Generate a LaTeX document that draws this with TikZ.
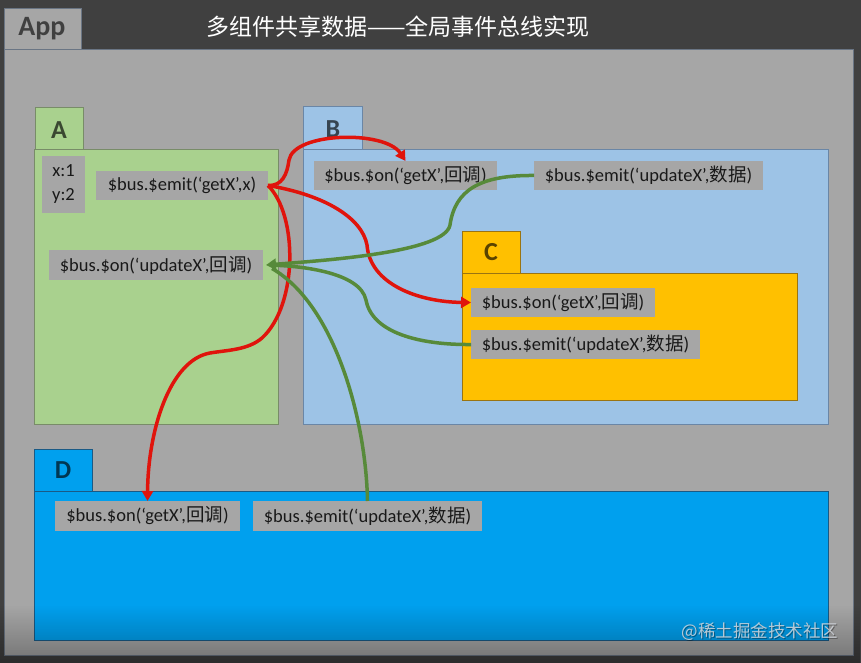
\documentclass[tikz,border=0pt]{standalone}
\usepackage{fontspec}
\setmainfont{Carlito}
\newfontfamily\cjk{Noto Sans CJK SC}
\usetikzlibrary{arrows.meta,fadings}
\definecolor{bgdark}{HTML}{404040}
\definecolor{panelgray}{HTML}{A6A6A6}
\definecolor{panelline}{HTML}{6A7584}
\definecolor{boxgray}{HTML}{A6A6A6}
\definecolor{agreen}{HTML}{A9D18E}
\definecolor{agreenline}{HTML}{788C68}
\definecolor{bblue}{HTML}{9DC3E6}
\definecolor{bblueline}{HTML}{6A86A6}
\definecolor{corange}{HTML}{FFC000}
\definecolor{corangeline}{HTML}{9A7412}
\definecolor{dblue}{HTML}{00A0EE}
\definecolor{dblueline}{HTML}{1A5A85}
\definecolor{arrowred}{HTML}{E0140C}
\definecolor{arrowgreen}{HTML}{578A3A}
\definecolor{wmark}{HTML}{D3D7DD}
\tikzfading[name=fadedown, top color=transparent!100, bottom color=transparent!0]
\tikzset{
  lbl/.style={fill=boxgray, anchor=north west, inner sep=0pt, outer sep=0pt,
    minimum height=29pt, text=black!90, font=\fontsize{18.5}{22}\selectfont},
  tabbox/.style={line width=1pt},
  tabletter/.style={font=\bfseries\fontsize{26}{28}\selectfont},
  redarrow/.style={draw=arrowred, line width=3.5pt, -{Triangle[length=10pt,width=11pt]}},
  greenarrow/.style={draw=arrowgreen, line width=3.5pt, -{Triangle[length=10pt,width=11pt]}},
  greenline/.style={draw=arrowgreen, line width=3.5pt},
}
\begin{document}
\begin{tikzpicture}[x=1pt,y=-1pt]
\useasboundingbox (0,0) rectangle (861,663);
\fill[bgdark] (0,0) rectangle (861,663);
% App panel
\filldraw[fill=panelgray, draw=panelline, line width=0.8pt] (4,49) rectangle (853,655);
\filldraw[fill=panelgray, draw=panelline, line width=0.8pt] (4,8) rectangle (81,49);
\node[font=\bfseries\fontsize{28}{30}\selectfont, text=bgdark] (apptitle) at (42,29) {App};
\node[font=\cjk\fontsize{23}{26}\selectfont, text=white] (title) at (398,27) {多组件共享数据——全局事件总线实现};
% A
\filldraw[fill=agreen, draw=agreenline, tabbox] (34,150) rectangle (278,424);
\filldraw[fill=agreen, draw=agreenline, tabbox] (35,108) rectangle (83,150);
\node[tabletter, text=black, text opacity=0.65] (atab) at (59,130) {A};
% B
\filldraw[fill=bblue, draw=bblueline, tabbox] (303,150) rectangle (828,424);
\filldraw[fill=bblue, draw=bblueline, tabbox] (303,107) rectangle (362,150);
\node[tabletter, text=black, text opacity=0.65] (btab) at (333,129) {B};
% C
\filldraw[fill=corange, draw=corangeline, tabbox] (462,273) rectangle (797,400);
\filldraw[fill=corange, draw=corangeline, tabbox] (462,231) rectangle (520,273);
\node[tabletter, text=black, text opacity=0.65] (ctab) at (491,252) {C};
% D
\filldraw[fill=dblue, draw=dblueline, tabbox] (34,491) rectangle (828,640);
\filldraw[fill=dblue, draw=dblueline, tabbox] (34,449) rectangle (92,491);
\node[tabletter, text=black, text opacity=0.65] (dtab) at (63,470) {D};
% labels
\node[lbl, minimum width=43pt, minimum height=57pt, align=center, font=\fontsize{18.5}{24}\selectfont] (axy) at (42,156) {x:1\\y:2};
\node[lbl, minimum width=172pt] (aemit) at (96,171) {\$bus.\$emit(‘getX’,x)};
\node[lbl, minimum width=214pt, minimum height=30pt] (aon) at (49,250) {\$bus.\$on(‘updateX’,{\cjk 回调})};
\node[lbl, minimum width=183pt] (bon) at (314,161) {\$bus.\$on(‘getX’,{\cjk 回调})};
\node[lbl, minimum width=229pt] (bemit) at (534,161) {\$bus.\$emit(‘updateX’,{\cjk 数据})};
\node[lbl, minimum width=184pt] (con) at (471,288) {\$bus.\$on(‘getX’,{\cjk 回调})};
\node[lbl, minimum width=229pt] (cemit) at (471,330) {\$bus.\$emit(‘updateX’,{\cjk 数据})};
\node[lbl, minimum width=185pt, minimum height=30pt] (don) at (55,501) {\$bus.\$on(‘getX’,{\cjk 回调})};
\node[lbl, minimum width=229pt, minimum height=30pt] (demit) at (253,501) {\$bus.\$emit(‘updateX’,{\cjk 数据})};
% bottom darkening
\fill[black, opacity=0.3, path fading=fadedown] (0,605) rectangle (861,663);
% red connectors
\draw[redarrow] (aemit.east) .. controls (282,186) and (287,175) .. (289,160)
  .. controls (294,132) and (385,130) .. (bon.north);
\draw[redarrow] (aemit.east) .. controls (325,195) and (362,218) .. (367,245)
  .. controls (370,285) and (420,302) .. (con.west);
\draw[redarrow] (aemit.east) .. controls (298,215) and (298,305) .. (262,338)
  .. controls (248,350) and (228,350) .. (210,353)
  .. controls (170,360) and (148,430) .. (don.north);
% green connectors
\draw[greenarrow] (bemit.west) .. controls (480,175) and (455,190) .. (450,225)
  .. controls (445,252) and (330,260) .. ([xshift=3pt]aon.east);
\draw[greenline, shorten >=7pt] (cemit.west) .. controls (420,345) and (372,333) .. (366,300)
  .. controls (360,272) and (300,266) .. ([xshift=3pt]aon.east);
\draw[greenline, shorten >=7pt] (demit.north) .. controls (366,420) and (335,305) .. ([xshift=3pt]aon.east);
% watermark
\node[font=\cjk\fontsize{17.5}{20}\selectfont, text=black, text opacity=0.35] (wmshadow) at (761,633) {@稀土掘金技术社区};
\node[font=\cjk\fontsize{17.5}{20}\selectfont, text=wmark, text opacity=0.85] (wm) at (760,632) {@稀土掘金技术社区};
\end{tikzpicture}
\end{document}
